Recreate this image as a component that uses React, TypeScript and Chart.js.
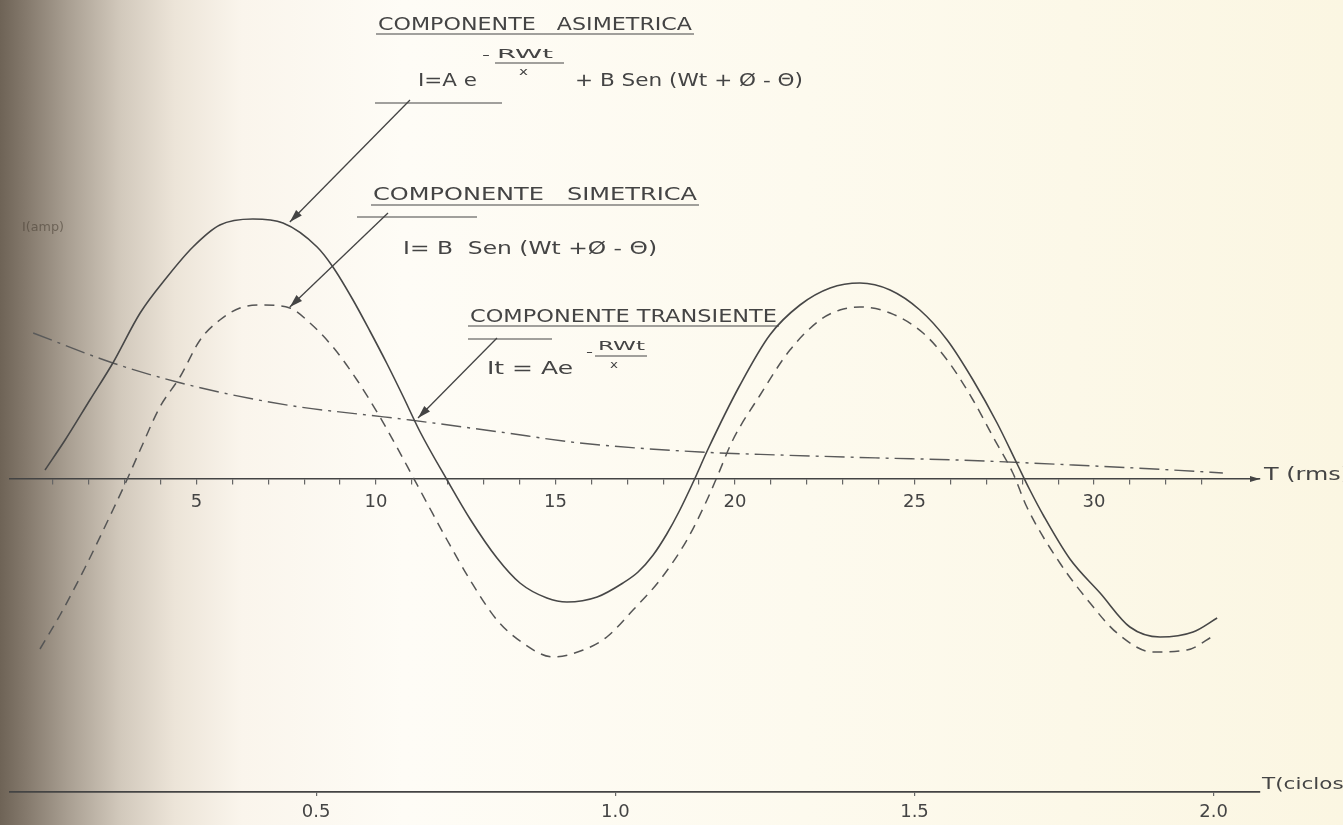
import React, { useEffect, useRef } from 'react';
import { Chart, registerables } from 'chart.js';

Chart.register(...registerables);

// ---- data (time in ms, current in arbitrary units) ----
const asymTime = [0.78, 1.34, 2.03, 2.67, 3.43, 4.18, 4.9, 5.65, 6.57, 7.41, 8.36, 8.8, 9.36, 9.83, 10.31, 10.75, 11.23, 11.98, 12.62, 13.37, 14.01, 14.76, 15.32, 16.16, 16.88, 17.3, 17.72, 18.1, 18.45, 18.85, 19.25, 20.14, 20.97, 21.81, 22.65, 23.48, 24.32, 25.15, 25.91, 26.63, 27.3, 27.86, 28.2, 28.6, 29.33, 30.17, 31.0, 31.84, 32.76, 33.43];
const asymValue = [0.09, 0.39, 0.79, 1.16, 1.66, 2.02, 2.32, 2.54, 2.6, 2.56, 2.32, 2.12, 1.79, 1.48, 1.15, 0.83, 0.47, -0.01, -0.4, -0.79, -1.04, -1.19, -1.23, -1.18, -1.04, -0.93, -0.76, -0.55, -0.32, -0.02, 0.3, 0.94, 1.44, 1.74, 1.91, 1.96, 1.89, 1.69, 1.39, 0.99, 0.56, 0.15, -0.1, -0.37, -0.8, -1.14, -1.48, -1.58, -1.53, -1.39];

const symTime = [0.64, 1.2, 1.89, 2.67, 3.06, 3.43, 3.98, 4.54, 5.1, 5.65, 6.21, 6.85, 7.6, 8.16, 8.8, 9.47, 10.11, 10.58, 11.03, 11.42, 11.98, 12.62, 13.37, 14.09, 14.93, 15.77, 16.43, 17.16, 17.91, 18.66, 19.22, 19.5, 19.94, 20.7, 21.53, 22.37, 22.92, 23.48, 24.32, 25.24, 25.91, 26.63, 27.19, 27.74, 28.13, 29.05, 29.89, 30.64, 31.64, 32.59, 33.37];
const symValue = [-1.7, -1.36, -0.89, -0.31, -0.01, 0.29, 0.72, 1.02, 1.39, 1.59, 1.71, 1.74, 1.71, 1.56, 1.32, 0.99, 0.62, 0.32, 0.02, -0.24, -0.61, -1.01, -1.41, -1.64, -1.78, -1.71, -1.58, -1.31, -1.01, -0.61, -0.21, 0.02, 0.39, 0.84, 1.29, 1.59, 1.69, 1.72, 1.66, 1.46, 1.19, 0.79, 0.42, 0.06, -0.28, -0.84, -1.24, -1.54, -1.73, -1.71, -1.56];

const transTime = [0.45, 2.67, 4.46, 6.02, 7.88, 9.75, 10.95, 13.45, 15.68, 19.03, 21.25, 24.04, 26.18, 29.42, 32.2, 33.59];
const transValue = [1.46, 1.16, 0.97, 0.84, 0.72, 0.64, 0.59, 0.47, 0.36, 0.27, 0.24, 0.21, 0.19, 0.14, 0.09, 0.06];

const msMajorLabels = [5, 10, 15, 20, 25, 30];
const msMinorTicks = Array.from({ length: 33 }, (_, i) => i + 1);
const cycleTicks = [0.5, 1.0, 1.5, 2.0];
const MS_PER_CYCLE = 1000 / 60;

// layout constants
const W = 1343;
const H = 825;
const PAD_LEFT = 10;
const PAD_RIGHT = 83;
const PX_ORIGIN = 17;
const PX_PER_MS = 35.9;
const X_MIN = (PAD_LEFT - PX_ORIGIN) / PX_PER_MS;
const X_MAX = (W - PAD_RIGHT - PX_ORIGIN) / PX_PER_MS;
const Y_MIN = -3.13;
const Y_MAX = 4.79;

const INK = '#444444';
const FONT = '"DejaVu Sans", "Liberation Sans", sans-serif';

function fitText(ctx: CanvasRenderingContext2D, text: string, x0: number, x1: number, yc: number, size: number, color = INK) {
  ctx.save();
  ctx.font = `${size}px ${FONT}`;
  ctx.textBaseline = 'middle';
  ctx.textAlign = 'left';
  ctx.fillStyle = color;
  const w = ctx.measureText(text).width;
  const sx = (x1 - x0) / w;
  ctx.translate(x0, yc);
  ctx.scale(sx, 1);
  ctx.fillText(text, 0, 0);
  ctx.restore();
}

function line(ctx: CanvasRenderingContext2D, x0: number, y0: number, x1: number, y1: number, w = 1.2, color = INK) {
  ctx.save();
  ctx.strokeStyle = color;
  ctx.lineWidth = w;
  ctx.beginPath();
  ctx.moveTo(x0, y0);
  ctx.lineTo(x1, y1);
  ctx.stroke();
  ctx.restore();
}

function arrow(ctx: CanvasRenderingContext2D, x0: number, y0: number, x1: number, y1: number) {
  line(ctx, x0, y0, x1, y1, 1.3);
  const a = Math.atan2(y1 - y0, x1 - x0);
  const len = 13;
  const half = 4;
  ctx.save();
  ctx.fillStyle = INK;
  ctx.translate(x1, y1);
  ctx.rotate(a);
  ctx.beginPath();
  ctx.moveTo(0, 0);
  ctx.lineTo(-len, -half);
  ctx.lineTo(-len, half);
  ctx.closePath();
  ctx.fill();
  ctx.restore();
}

const paperPlugin = {
  id: 'paper',
  beforeDraw(chart: any) {
    const { ctx, width, height } = chart;
    ctx.save();
    const g = ctx.createLinearGradient(0, 0, width, 0);
    g.addColorStop(0, '#6e6356');
    g.addColorStop(0.02, '#857a6d');
    g.addColorStop(0.05, '#a89e91');
    g.addColorStop(0.09, '#d2c9bc');
    g.addColorStop(0.13, '#ece4d8');
    g.addColorStop(0.18, '#faf5ec');
    g.addColorStop(0.3, '#fefcf6');
    g.addColorStop(0.6, '#fdfaee');
    g.addColorStop(1, '#fbf6e2');
    ctx.fillStyle = g;
    ctx.fillRect(0, 0, width, height);
    ctx.restore();
  },
};

const notesPlugin = {
  id: 'notes',
  afterDraw(chart: any) {
    const { ctx } = chart;
    const xs = chart.scales.x;
    const ys = chart.scales.y;
    const P = (t: number, v: number) => [xs.getPixelForValue(t), ys.getPixelForValue(v)];

    // Asymmetric component label
    fitText(ctx, 'COMPONENTE   ASIMETRICA', 378, 692, 25, 18);
    line(ctx, 376, 34, 694, 34);
    fitText(ctx, 'I=A e', 418, 477, 82, 17);
    fitText(ctx, '-', 482, 490, 56, 13);
    fitText(ctx, 'RWt', 497, 553, 55, 13);
    line(ctx, 495, 63, 564, 63, 1.1);
    fitText(ctx, 'x', 519, 528, 72, 10);
    fitText(ctx, '+ B Sen (Wt + Ø - Θ)', 575, 803, 82, 17);
    line(ctx, 375, 103, 502, 103);
    const [a1x, a1y] = P(7.6, 2.57);
    arrow(ctx, 410, 100, a1x, a1y);

    // Symmetric component label
    fitText(ctx, 'COMPONENTE   SIMETRICA', 373, 697, 195, 18);
    line(ctx, 371, 205, 699, 205);
    line(ctx, 357, 217, 477, 217);
    fitText(ctx, 'I= B  Sen (Wt +Ø - Θ)', 403, 657, 250, 17);
    const [a2x, a2y] = P(7.6, 1.72);
    arrow(ctx, 388, 213, a2x, a2y);

    // Transient component label
    fitText(ctx, 'COMPONENTE TRANSIENTE', 470, 777, 317, 18);
    line(ctx, 468, 326, 779, 326);
    line(ctx, 468, 339, 552, 339);
    fitText(ctx, 'It = Ae', 487, 573, 370, 17);
    fitText(ctx, '-', 586, 593, 353, 13);
    fitText(ctx, 'RWt', 598, 645, 347, 13);
    line(ctx, 595, 356, 647, 356, 1.1);
    fitText(ctx, 'x', 610, 618, 365, 10);
    const [a3x, a3y] = P(11.17, 0.61);
    arrow(ctx, 497, 338, a3x, a3y);

    // axis arrows + axis titles
    const y0 = ys.getPixelForValue(0);
    const xr = chart.chartArea.right;
    ctx.save();
    ctx.fillStyle = INK;
    ctx.beginPath();
    ctx.moveTo(xr, y0);
    ctx.lineTo(xr - 10, y0 - 3);
    ctx.lineTo(xr - 10, y0 + 3);
    ctx.closePath();
    ctx.fill();
    ctx.restore();
    fitText(ctx, 'T (rms)', 1264, 1350, y0 - 4, 18);

    const yb = chart.chartArea.bottom;
    fitText(ctx, 'T(ciclos)', 1262, 1352, yb - 7, 15);

    // faint y-axis label
    fitText(ctx, 'I(amp)', 22, 64, 228, 13, 'rgba(70,60,50,0.55)');
  },
};

export default function App() {
  const ref = useRef<HTMLCanvasElement | null>(null);

  useEffect(() => {
    if (!ref.current) return;
    const toPts = (t: number[], v: number[]) => t.map((x, i) => ({ x, y: v[i] }));
    const chart = new Chart(ref.current, {
      type: 'line',
      data: {
        datasets: [
          {
            label: 'Componente asimétrica',
            data: toPts(asymTime, asymValue),
            borderColor: '#474747',
            borderWidth: 1.6,
            pointRadius: 0,
            cubicInterpolationMode: 'monotone',
            fill: false,
          },
          {
            label: 'Componente simétrica',
            data: toPts(symTime, symValue),
            borderColor: '#555555',
            borderWidth: 1.5,
            borderDash: [10, 7],
            pointRadius: 0,
            cubicInterpolationMode: 'monotone',
            fill: false,
          },
          {
            label: 'Componente transiente',
            data: toPts(transTime, transValue),
            borderColor: '#5a5a5a',
            borderWidth: 1.4,
            borderDash: [20, 6, 3, 6],
            pointRadius: 0,
            cubicInterpolationMode: 'monotone',
            fill: false,
          },
        ],
      },
      options: {
        responsive: false,
        animation: false,
        layout: { padding: { left: PAD_LEFT, right: PAD_RIGHT, top: 0, bottom: 0 } },
        plugins: { legend: { display: false }, tooltip: { enabled: false } },
        scales: {
          x: {
            type: 'linear',
            min: X_MIN,
            max: X_MAX,
            position: { y: 0 } as any,
            afterBuildTicks: (s: any) => {
              s.ticks = msMinorTicks.map((v) => ({ value: v }));
            },
            ticks: {
              autoSkip: false,
              maxRotation: 0,
              padding: 8,
              color: INK,
              font: { family: FONT, size: 18 },
              callback: (v: any) => (msMajorLabels.includes(Number(v)) ? String(v) : ''),
            },
            grid: { drawOnChartArea: false, drawTicks: true, tickLength: 5, color: '#666', lineWidth: 1.2 },
            border: { display: true, color: INK, width: 1.5 },
          },
          x2: {
            type: 'linear',
            position: 'bottom',
            min: X_MIN / MS_PER_CYCLE,
            max: X_MAX / MS_PER_CYCLE,
            afterBuildTicks: (s: any) => {
              s.ticks = cycleTicks.map((v) => ({ value: v }));
            },
            afterFit: (s: any) => {
              s.height = 33;
            },
            ticks: {
              autoSkip: false,
              maxRotation: 0,
              padding: 6,
              color: INK,
              font: { family: FONT, size: 18 },
              callback: (v: any) => Number(v).toFixed(1),
            },
            grid: { drawOnChartArea: false, drawTicks: true, tickLength: 4, color: '#666', lineWidth: 1.2 },
            border: { display: true, color: INK, width: 1.8 },
          },
          y: { type: 'linear', display: false, min: Y_MIN, max: Y_MAX },
        },
      },
      plugins: [paperPlugin, notesPlugin],
    });
    return () => chart.destroy();
  }, []);

  return (
    <div style={{ position: 'absolute', left: 0, top: 0, width: W, height: H, overflow: 'hidden' }}>
      <canvas ref={ref} width={W} height={H} style={{ display: 'block', width: W, height: H }} />
    </div>
  );
}
